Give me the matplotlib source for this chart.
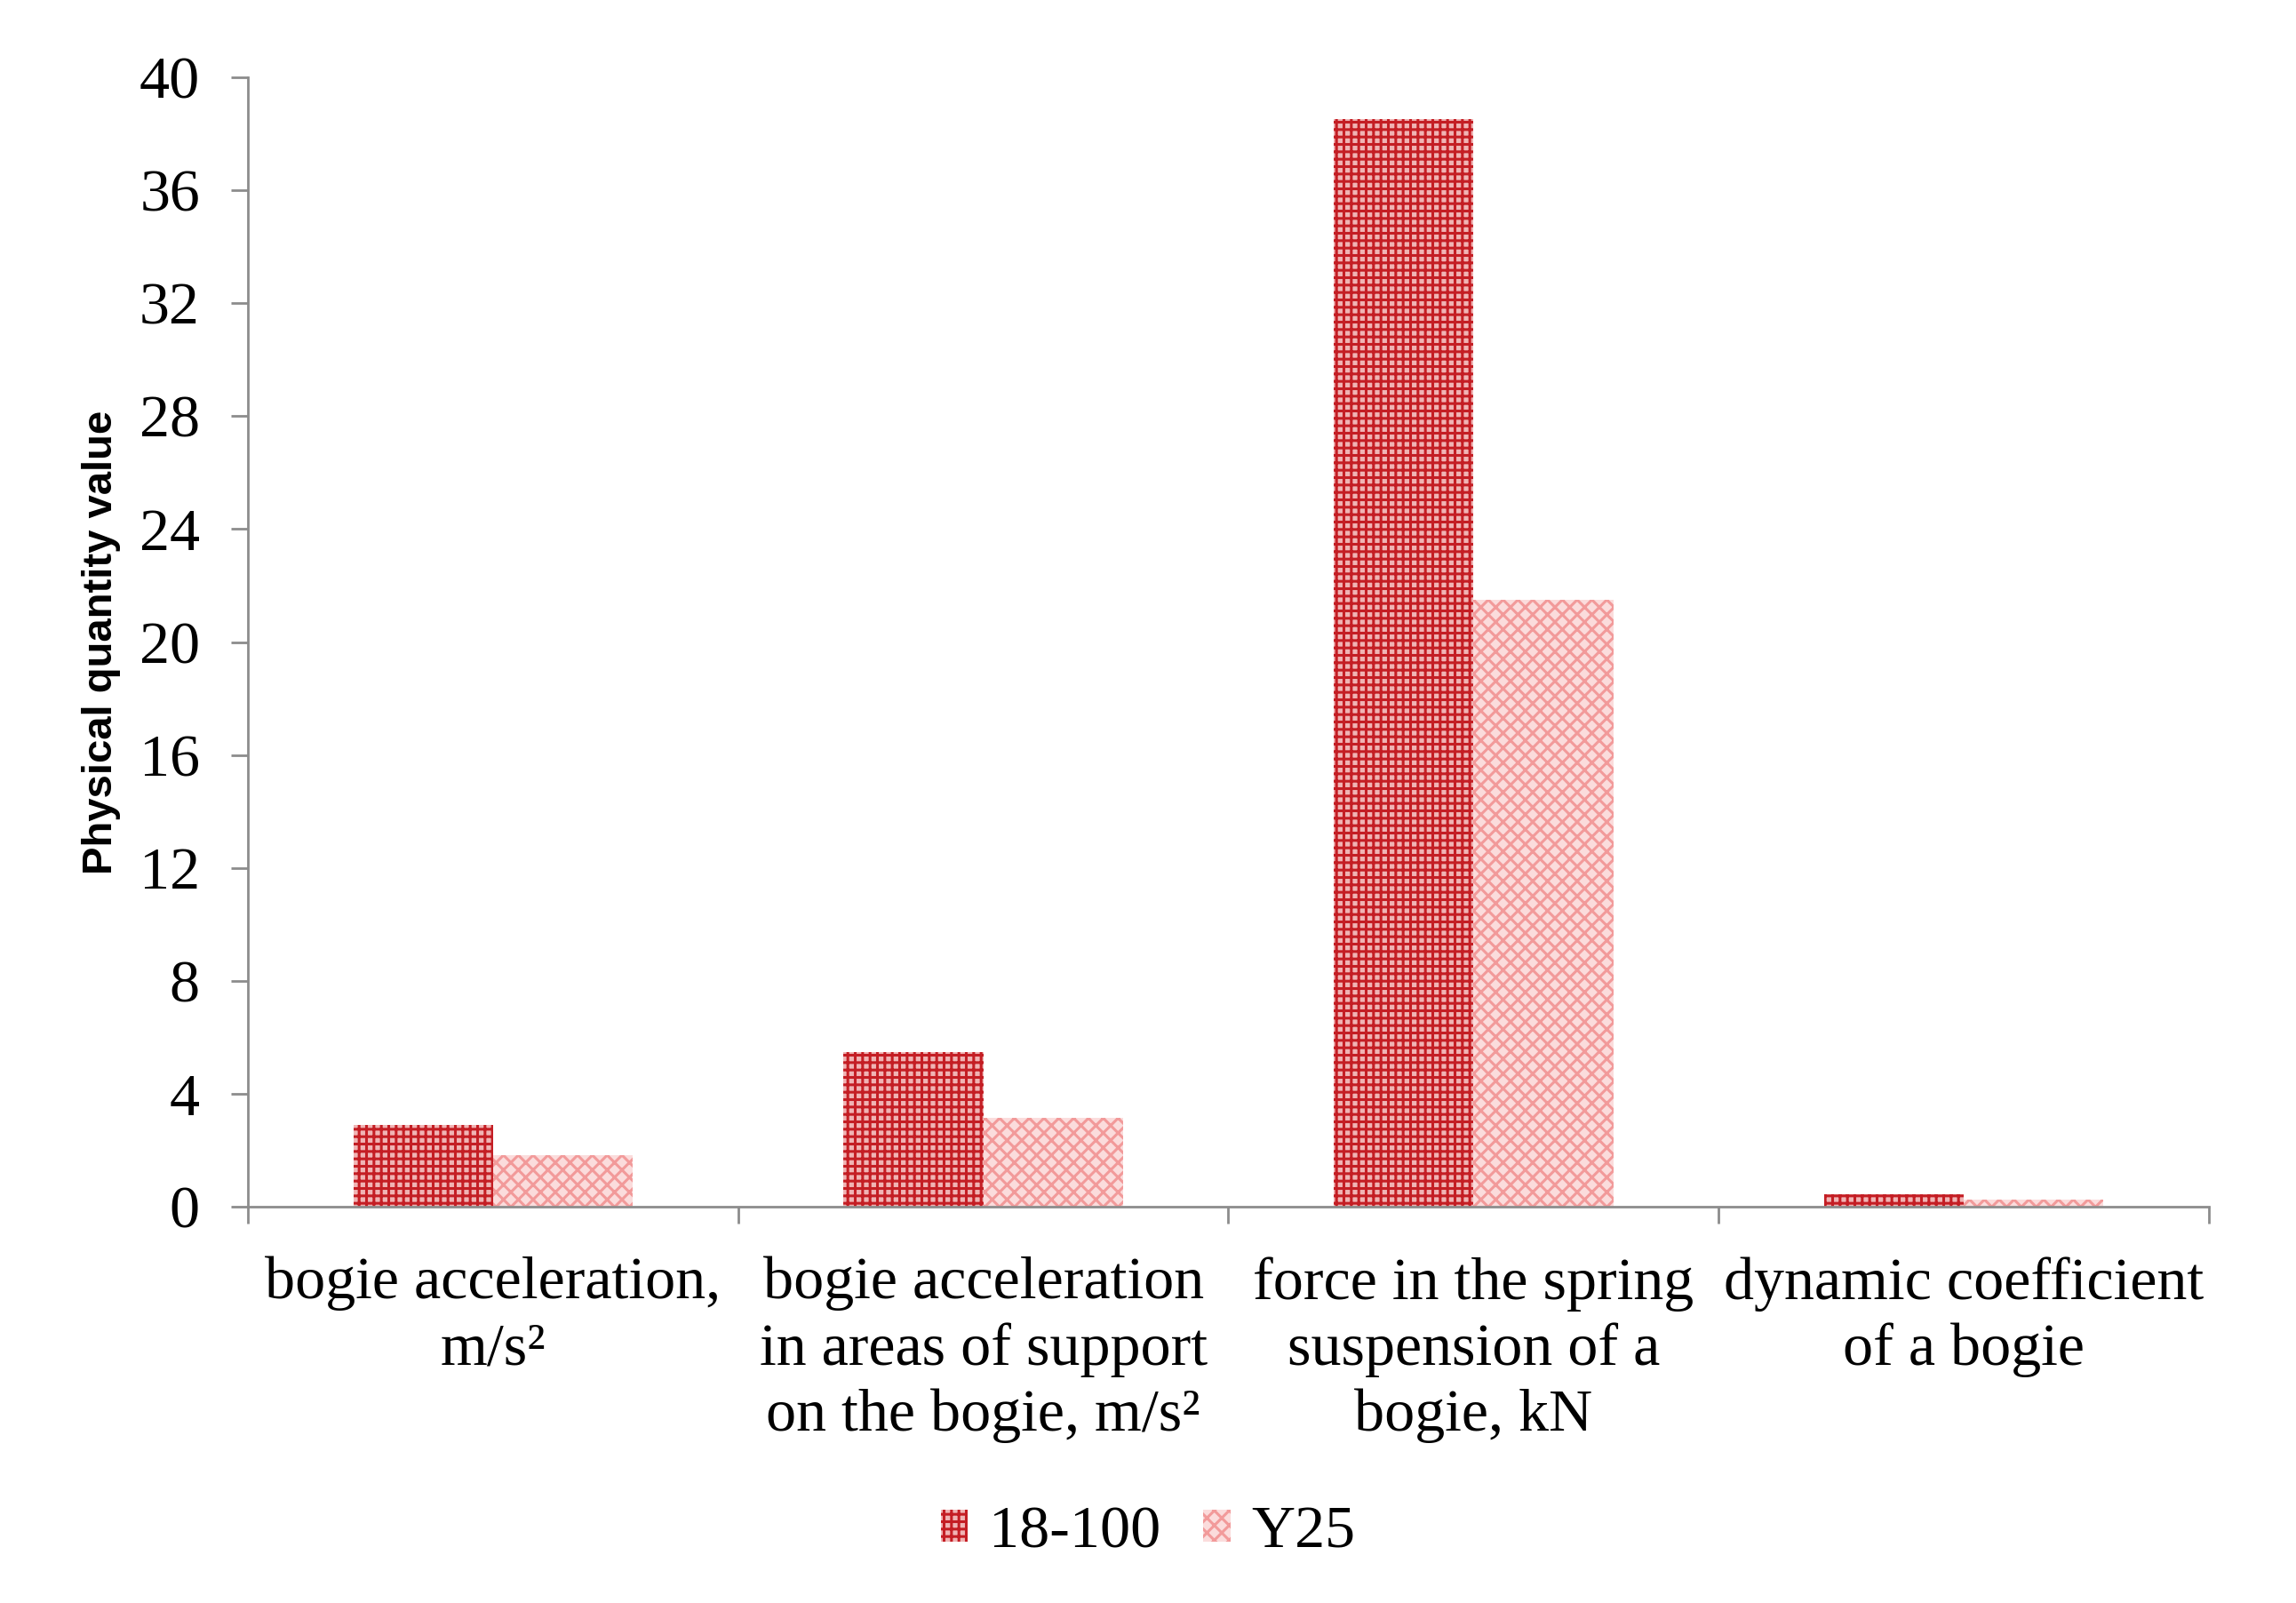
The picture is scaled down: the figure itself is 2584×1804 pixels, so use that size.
import numpy as np
import matplotlib
matplotlib.use('Agg')
import matplotlib.pyplot as plt
from matplotlib.patches import Patch

categories = ['bogie acceleration,\nm/s²',
              'bogie acceleration\nin areas of support\non the bogie, m/s²',
              'force in the spring\nsuspension of a\nbogie, kN',
              'dynamic coefficient\nof a bogie']
series_names = ['18-100', 'Y25']
vals_18_100 = [2.9, 5.5, 38.5, 0.45]
vals_y25 = [1.85, 3.15, 21.5, 0.25]
yticks = [0, 4, 8, 12, 16, 20, 24, 28, 32, 36, 40]

plt.rcParams['hatch.linewidth'] = 2.2
serif = 'Liberation Serif'
fs = 49

fig = plt.figure(figsize=(25.84, 18.04), dpi=100)
ax = fig.add_axes([0.108, 0.247, 0.854, 0.705])

x = np.arange(len(categories))
w = 0.285
c1 = '#C41E24'
c2 = '#F29A9A'
h1 = '++'
h2 = 'xx'
ax.bar(x - w / 2, vals_18_100, w, facecolor='#F0B4B4', edgecolor=c1,
       hatch=h1, linewidth=0)
ax.bar(x + w / 2, vals_y25, w, facecolor='#FBDCDC', edgecolor=c2,
       hatch=h2, linewidth=0)

ax.set_xlim(-0.5, len(categories) - 0.5)
ax.set_ylim(0, 40)
ax.set_yticks(yticks)
ax.set_yticklabels([str(t) for t in yticks], fontsize=fs, family=serif)

ax.set_xticks(np.arange(len(categories) + 1) - 0.5)
ax.set_xticklabels([])
ax.set_xticks(x, minor=True)
ax.set_xticklabels(categories, minor=True, fontsize=fs, family=serif,
                   linespacing=1.27)
ax.tick_params(axis='x', which='minor', length=0, pad=40)
ax.tick_params(axis='x', which='major', length=14, width=2, color='#8C8C8C')
ax.tick_params(axis='y', length=14, width=2, color='#8C8C8C', pad=25)

for s in ['top', 'right']:
    ax.spines[s].set_visible(False)
for s in ['left', 'bottom']:
    ax.spines[s].set_color('#8C8C8C')
    ax.spines[s].set_linewidth(2)

ax.set_ylabel('Physical quantity value', fontsize=34, fontweight='bold',
              family='Liberation Sans', labelpad=15)

handles = [Patch(facecolor='#F0B4B4', edgecolor=c1, hatch=h1, linewidth=0),
           Patch(facecolor='#FBDCDC', edgecolor=c2, hatch=h2, linewidth=0)]
fig.legend(handles, series_names, loc='center', bbox_to_anchor=(0.5, 0.044),
           ncol=2, frameon=False, prop={'family': serif, 'size': fs},
           handlelength=0.45, handleheight=0.45, handletextpad=0.35,
           columnspacing=0.7)

fig.savefig('out.png', dpi=100)
